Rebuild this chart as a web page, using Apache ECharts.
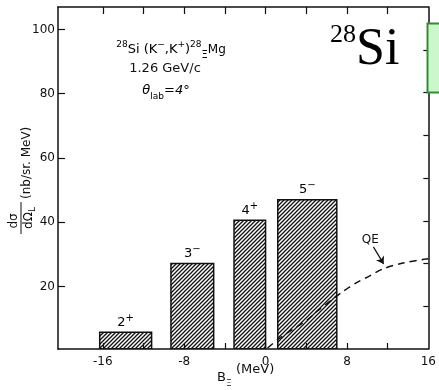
<!DOCTYPE html>
<html>
<head>
<meta charset="utf-8">
<script src="https://cdn.jsdelivr.net/npm/echarts@6/dist/echarts.min.js"></script>
<style>
  html, body { margin: 0; padding: 0; background: #fff; }
  #chart { width: 439px; height: 390px; }
</style>
</head>
<body>
<div id="chart"></div>
<script>
// Excitation levels of the hypernucleus: spin / parity, bin edges (MeV) and cross section
const levelSpin = ['2', '3', '4', '5'];
const levelParity = ['+', '−', '+', '−'];
const binFrom = [-16.3, -9.3, -3.1, 1.2];
const binTo = [-11.2, -5.1, 0.0, 7.0];
const crossSection = [5.7, 27.1, 40.6, 47.0];

// Quasi-elastic (QE) continuum, dashed curve
const qeEnergy = [0.2, 1.3, 4.1, 5.0, 6.5, 7.6, 8.9, 10.2, 11.5, 13.4, 15.7, 16.0];
const qeSigma = [0.8, 3.7, 9.6, 12.1, 15.8, 18.4, 21.1, 23.2, 25.4, 27.2, 28.5, 28.6];

// Axis ticks and labels
const xTickValues = [-16, -12, -8, -4, 0, 4, 8, 12];
const xLabelValues = [-16, -8, 0, 8, 16];
const yTickValues = [20, 40, 60, 80, 100];
const rightTickValues = [1, 2, 3, 4, 5, 6, 7];

const xRange = [-20.4, 16];
const yFloor = 0.5;
const yCeil = 107;

const ink = '#111';
const font = 'DejaVu Sans';

// Diagonal hatching used to fill the level bars
function hatchCanvas() {
  const n = 4;
  const c = document.createElement('canvas');
  c.width = n; c.height = n;
  const g = c.getContext('2d');
  g.strokeStyle = ink;
  g.lineWidth = 1.3;
  g.beginPath();
  g.moveTo(0, n); g.lineTo(n, 0);
  g.moveTo(-1, 1); g.lineTo(1, -1);
  g.moveTo(n - 1, n + 1); g.lineTo(n + 1, n - 1);
  g.stroke();
  return c;
}
const hatch = { image: hatchCanvas(), repeat: 'repeat' };

const levelData = levelSpin.map((s, i) => [binFrom[i], binTo[i], crossSection[i], i]);
const qeData = qeEnergy.map((e, i) => [e, qeSigma[i]]);

const supRich = {
  n: { fontSize: 13, fontFamily: font, color: ink, lineHeight: 18 },
  s: { fontSize: 10, fontFamily: font, color: ink, lineHeight: 18, verticalAlign: 'top' }
};

function renderLevel(params, api) {
  const i = api.value(3);
  const topLeft = api.coord([api.value(0), api.value(2)]);
  const bottomRight = api.coord([api.value(1), yFloor]);
  const cx = (topLeft[0] + bottomRight[0]) / 2;
  return {
    type: 'group',
    children: [
      {
        type: 'rect',
        shape: {
          x: topLeft[0], y: topLeft[1],
          width: bottomRight[0] - topLeft[0],
          height: bottomRight[1] - topLeft[1]
        },
        style: { fill: hatch, stroke: ink, lineWidth: 1.5 }
      },
      {
        type: 'text',
        x: cx, y: topLeft[1] - 1,
        style: {
          text: '{n|' + levelSpin[i] + '}{s|' + levelParity[i] + '}',
          rich: supRich,
          align: 'center',
          verticalAlign: 'bottom'
        }
      }
    ]
  };
}

const axisLine = { show: true, onZero: false, lineStyle: { color: ink, width: 1.5 } };

const option = {
  backgroundColor: '#fff',
  animation: false,
  grid: { left: 58, right: 6, top: 7, bottom: 41 },
  xAxis: [
    {
      type: 'value', position: 'bottom', min: xRange[0], max: xRange[1],
      axisLine: axisLine,
      axisTick: { inside: true, length: 6, customValues: xTickValues, lineStyle: { color: ink, width: 1.2 } },
      axisLabel: { customValues: xLabelValues, color: ink, fontSize: 12, fontFamily: font, margin: 7 },
      splitLine: { show: false }
    },
    {
      type: 'value', position: 'top', min: xRange[0], max: xRange[1],
      axisLine: axisLine,
      axisTick: { inside: true, length: 7, customValues: xTickValues, lineStyle: { color: ink, width: 1.2 } },
      axisLabel: { show: false },
      splitLine: { show: false }
    }
  ],
  yAxis: [
    {
      type: 'value', position: 'left', min: yFloor, max: yCeil,
      axisLine: axisLine,
      axisTick: { inside: true, length: 7, customValues: yTickValues, lineStyle: { color: ink, width: 1.2 } },
      axisLabel: { customValues: yTickValues, color: ink, fontSize: 12, fontFamily: font, margin: 3 },
      splitLine: { show: false }
    },
    {
      type: 'value', position: 'right', min: 0, max: 8,
      axisLine: axisLine,
      axisTick: { inside: true, length: 5, customValues: rightTickValues, lineStyle: { color: ink, width: 1.2 } },
      axisLabel: { show: false },
      splitLine: { show: false }
    }
  ],
  series: [
    {
      type: 'custom',
      xAxisIndex: 0, yAxisIndex: 0,
      renderItem: renderLevel,
      data: levelData,
      clip: true,
      z: 2
    },
    {
      type: 'line',
      xAxisIndex: 0, yAxisIndex: 0,
      data: qeData,
      smooth: 0.3,
      symbol: 'none',
      clip: true,
      lineStyle: { color: ink, width: 1.5, type: [7, 5] },
      z: 5,
      markLine: {
        silent: true,
        symbol: ['none', 'arrow'],
        symbolSize: 7,
        lineStyle: { color: ink, width: 1.2, type: 'solid', curveness: -0.2 },
        label: { show: false },
        data: [[{ coord: [10.6, 32.3] }, { coord: [11.6, 27.0] }]]
      },
      markPoint: {
        silent: true,
        symbol: 'circle',
        symbolSize: 1,
        itemStyle: { color: 'rgba(0,0,0,0)' },
        label: { show: true, position: 'inside', formatter: 'QE', color: ink, fontSize: 12, fontFamily: font },
        data: [{ coord: [10.3, 34.5] }]
      }
    }
  ],
  graphic: [
    // reaction, beam momentum and angle
    {
      type: 'text', x: 171, y: 50,
      style: {
        text: '{s|28}{n|Si (K}{s|−}{n|,K}{s|+}{n|)}{s|28}{x|Ξ}{m|Mg}',
        align: 'center', verticalAlign: 'middle',
        rich: {
          n: { fontSize: 13, fontFamily: font, color: ink, lineHeight: 20 },
          m: { fontSize: 12, fontFamily: font, color: ink, lineHeight: 20 },
          s: { fontSize: 9, fontFamily: font, color: ink, lineHeight: 20, verticalAlign: 'top' },
          x: { fontSize: 10, fontFamily: font, color: ink, lineHeight: 20, verticalAlign: 'bottom' }
        }
      }
    },
    {
      type: 'text', x: 165, y: 69,
      style: { text: '1.26 GeV/c', fill: ink, font: '13px "DejaVu Sans"', align: 'center', verticalAlign: 'middle' }
    },
    {
      type: 'text', x: 166, y: 91,
      style: {
        text: '{t|θ}{b|lab}{t|=4°}',
        align: 'center', verticalAlign: 'middle',
        rich: {
          t: { fontSize: 13, fontFamily: font, color: ink, lineHeight: 20, fontStyle: 'italic' },
          b: { fontSize: 9, fontFamily: font, color: ink, lineHeight: 20, verticalAlign: 'bottom' }
        }
      }
    },
    // nucleus tag
    {
      type: 'text', x: 330, y: 50,
      style: {
        text: '{s|28}{n|Si}',
        align: 'left', verticalAlign: 'middle',
        rich: {
          s: { fontSize: 26, fontFamily: 'Liberation Serif', color: '#000', lineHeight: 56, verticalAlign: 'top' },
          n: { fontSize: 52, fontFamily: 'Liberation Serif', color: '#000', lineHeight: 56 }
        }
      }
    },
    {
      type: 'rect', z: 10,
      shape: { x: 427.5, y: 23.5, width: 40, height: 69 },
      style: { fill: '#ccf7cc', stroke: '#2f8f2f', lineWidth: 2 }
    },
    // x axis title
    { type: 'text', x: 217, y: 378, style: { text: 'B', fill: ink, font: '13px "DejaVu Sans"', verticalAlign: 'middle' } },
    { type: 'text', x: 226, y: 384, style: { text: 'Ξ', fill: ink, font: '9px "DejaVu Sans"', verticalAlign: 'middle' } },
    { type: 'text', x: 236, y: 370, style: { text: '(MeV)', fill: ink, font: '13px "DejaVu Sans"', verticalAlign: 'middle' } },
    // y axis title, rotated
    {
      type: 'group', x: 21, y: 218, rotation: Math.PI / 2,
      children: [
        { type: 'text', x: -3, y: -7, style: { text: 'dσ', fill: ink, font: '12px "DejaVu Sans"', align: 'center', verticalAlign: 'middle' } },
        { type: 'line', shape: { x1: -16, y1: 0, x2: 16, y2: 0 }, style: { stroke: ink, lineWidth: 1 } },
        {
          type: 'text', x: 0, y: 8,
          style: {
            text: '{a|dΩ}{b|L}', align: 'center', verticalAlign: 'middle',
            rich: {
              a: { fontSize: 12, fontFamily: font, color: ink, lineHeight: 16 },
              b: { fontSize: 9, fontFamily: font, color: ink, lineHeight: 16, verticalAlign: 'bottom' }
            }
          }
        },
        { type: 'text', x: 19, y: 6, style: { text: '(nb/sr. MeV)', fill: ink, font: '12px "DejaVu Sans"', align: 'left', verticalAlign: 'middle' } }
      ]
    }
  ]
};

const chart = echarts.init(document.getElementById('chart'), null, { renderer: 'canvas' });
chart.setOption(option);
</script>
</body>
</html>
